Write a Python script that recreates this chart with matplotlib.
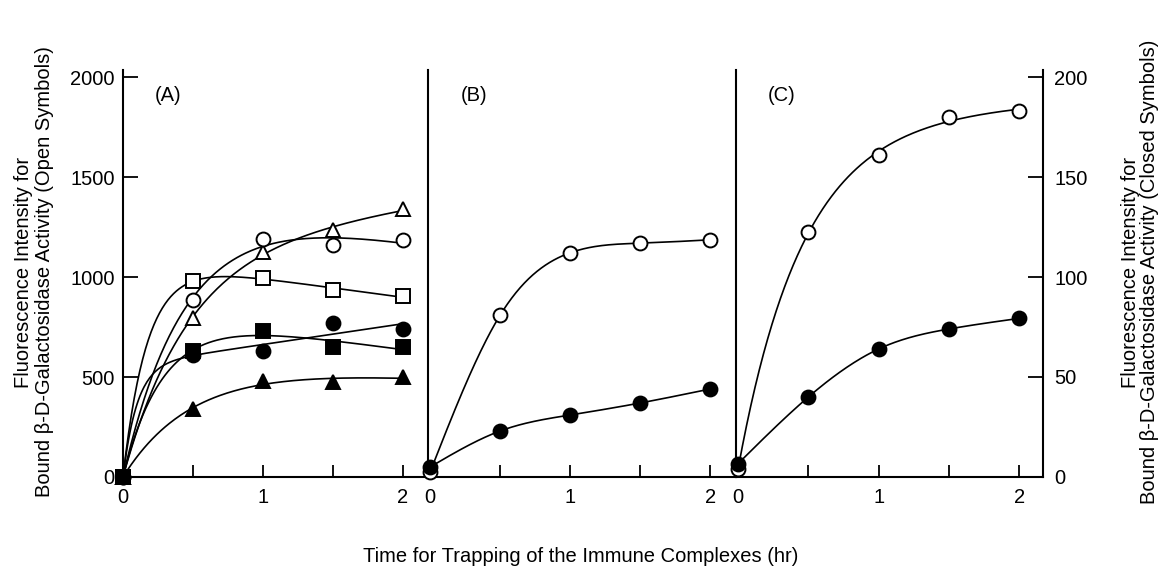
import numpy as np
import matplotlib
matplotlib.use("Agg")
import matplotlib.pyplot as plt
from matplotlib.ticker import FixedLocator

plt.rcParams['font.family'] = ['Liberation Sans', 'DejaVu Sans']

# ---- data ----
time_hr = [0, 0.5, 1, 1.5, 2]

# Panel A (open symbols: left axis; closed symbols: right axis)
a_open_triangle = [0, 797, 1127, 1233, 1339]
a_open_circle = [0, 886, 1188, 1158, 1183]
a_open_square = [0, 978, 995, 936, 903]
a_closed_circle = [0, 61, 63, 77, 74]
a_closed_square = [0, 63, 73, 65, 65]
a_closed_triangle = [0, 34, 48, 47.5, 50]

# Panel B
b_open_circle = [25, 809, 1121, 1169, 1186]
b_closed_circle = [5, 23, 31, 37, 44]

# Panel C
c_open_circle = [40, 1227, 1608, 1800, 1831]
c_closed_circle = [6.7, 40, 64, 74, 79.3]

panel_labels = ["(A)", "(B)", "(C)"]
left_ticks = [0, 500, 1000, 1500, 2000]
right_ticks = [0, 50, 100, 150, 200]
x_major = [0, 1, 2]
x_minor = [0.5, 1.5]

left_label = "Fluorescence Intensity for\nBound β-D-Galactosidase Activity (Open Symbols)"
right_label = "Fluorescence Intensity for\nBound β-D-Galactosidase Activity (Closed Symbols)"
x_label = "Time for Trapping of the Immune Complexes (hr)"


# ---- helpers ----
def fitted_curve(x, y, n=200, intercept=False):
    """Least-squares saturating fit y = c + a(1-exp(-kt)) + b t."""
    x = np.asarray(x, float)
    y = np.asarray(y, float)
    best = None
    for k in np.linspace(0.3, 10, 500):
        cols = [1 - np.exp(-k * x), x]
        if intercept:
            cols = [np.ones_like(x)] + cols
        M = np.column_stack(cols)
        coef, *_ = np.linalg.lstsq(M, y, rcond=None)
        r = np.sum((M @ coef - y) ** 2)
        if best is None or r < best[0]:
            best = (r, k, coef)
    _, k, coef = best
    xs = np.linspace(x.min(), x.max(), n)
    cols = [1 - np.exp(-k * xs), xs]
    if intercept:
        cols = [np.ones_like(xs)] + cols
    ys = np.column_stack(cols) @ coef
    return xs, ys


def fitted_curve_c(x, y, n=200):
    return fitted_curve(x, y, n, intercept=True)


def spline_curve(x, y, n=200):
    """Natural cubic spline through the points."""
    x = np.asarray(x, float)
    y = np.asarray(y, float)
    m = len(x)
    h = np.diff(x)
    A = np.zeros((m, m))
    rhs = np.zeros(m)
    A[0, 0] = A[-1, -1] = 1
    for i in range(1, m - 1):
        A[i, i - 1] = h[i - 1]
        A[i, i] = 2 * (h[i - 1] + h[i])
        A[i, i + 1] = h[i]
        rhs[i] = 6 * ((y[i + 1] - y[i]) / h[i] - (y[i] - y[i - 1]) / h[i - 1])
    M = np.linalg.solve(A, rhs)
    xs = np.linspace(x.min(), x.max(), n)
    idx = np.clip(np.searchsorted(x, xs) - 1, 0, m - 2)
    x0, x1 = x[idx], x[idx + 1]
    hh = x1 - x0
    t1, t0 = xs - x0, x1 - xs
    ys = (M[idx] * t0 ** 3 / (6 * hh) + M[idx + 1] * t1 ** 3 / (6 * hh)
          + (y[idx] / hh - M[idx] * hh / 6) * t0 + (y[idx + 1] / hh - M[idx + 1] * hh / 6) * t1)
    return xs, ys


FS = 14.5
W, H = 1162, 571
fig = plt.figure(figsize=(W / 100, H / 100), dpi=100)

bottom_px, top_px = 477, 70
YMAX = 2035
YMAX_R = YMAX / 10
panels_px = [(123, 428), (428, 736), (736, 1043)]
xlims = [(0, 2.18), (-0.015, 2.185), (-0.015, 2.17)]

axes = []
for i, (l, r) in enumerate(panels_px):
    ax = fig.add_axes([l / W, (H - bottom_px) / H, (r - l) / W, (bottom_px - top_px) / H])
    ax.set_xlim(*xlims[i])
    ax.set_ylim(0, YMAX)
    ax2 = ax.twinx()
    ax2.set_ylim(0, YMAX_R)
    for a in (ax, ax2):
        a.spines['top'].set_visible(False)
        a.spines['right'].set_visible(False)
        a.patch.set_visible(False)
    ax2.spines['left'].set_visible(False)
    ax2.spines['bottom'].set_visible(False)
    for s in ('left', 'bottom'):
        ax.spines[s].set_linewidth(1.5)
    ax.xaxis.set_major_locator(FixedLocator(x_major))
    ax.xaxis.set_minor_locator(FixedLocator(x_minor))
    ax.tick_params(axis='x', which='both', direction='in', length=9, width=1.3,
                   labelsize=FS, pad=8)
    ax2.set_yticks([])
    if i == 0:
        ax.set_yticks(left_ticks)
        ax.tick_params(axis='y', direction='in', length=11, width=1.3, labelsize=FS, pad=6)
    else:
        ax.set_yticks([])
    if i == 2:
        ax2.spines['right'].set_visible(True)
        ax2.spines['right'].set_linewidth(1.5)
        ax2.set_yticks(right_ticks)
        ax2.tick_params(axis='y', direction='in', length=11, width=1.3, labelsize=FS, pad=8)
    ax.text(0.105, 1.0 - 25 / (bottom_px - top_px), panel_labels[i],
            transform=ax.transAxes, fontsize=FS, va='center', ha='left')
    axes.append((ax, ax2))

lw = 1.2
ms = 10
mew = 1.4


def draw(ax, y, marker, filled, curve):
    xs, ys = curve(time_hr, y)
    ax.plot(xs, ys, color='black', lw=lw, zorder=2, clip_on=False)
    ax.plot(time_hr, y, linestyle='none', marker=marker, ms=ms, mew=mew,
            mec='black', mfc='black' if filled else 'white', zorder=3, clip_on=False)


axA, axA2 = axes[0]
draw(axA, a_open_triangle, '^', False, fitted_curve)
draw(axA, a_open_circle, 'o', False, fitted_curve)
draw(axA, a_open_square, 's', False, fitted_curve)
draw(axA2, a_closed_circle, 'o', True, fitted_curve)
draw(axA2, a_closed_square, 's', True, fitted_curve)
draw(axA2, a_closed_triangle, '^', True, fitted_curve)

axB, axB2 = axes[1]
draw(axB, b_open_circle, 'o', False, spline_curve)
draw(axB2, b_closed_circle, 'o', True, spline_curve)

axC, axC2 = axes[2]
draw(axC, c_open_circle, 'o', False, fitted_curve_c)
draw(axC2, c_closed_circle, 'o', True, spline_curve)

fig.text(581 / W, 1 - 556 / H, x_label, ha='center', va='center', fontsize=FS)
fig.text(34 / W, 1 - 272 / H, left_label, ha='center', va='center', rotation=90,
         fontsize=FS, linespacing=1.1)
fig.text(1140 / W, 1 - 272 / H, right_label, ha='center', va='center', rotation=90,
         fontsize=FS, linespacing=1.05)

fig.savefig("out.png", dpi=100)
